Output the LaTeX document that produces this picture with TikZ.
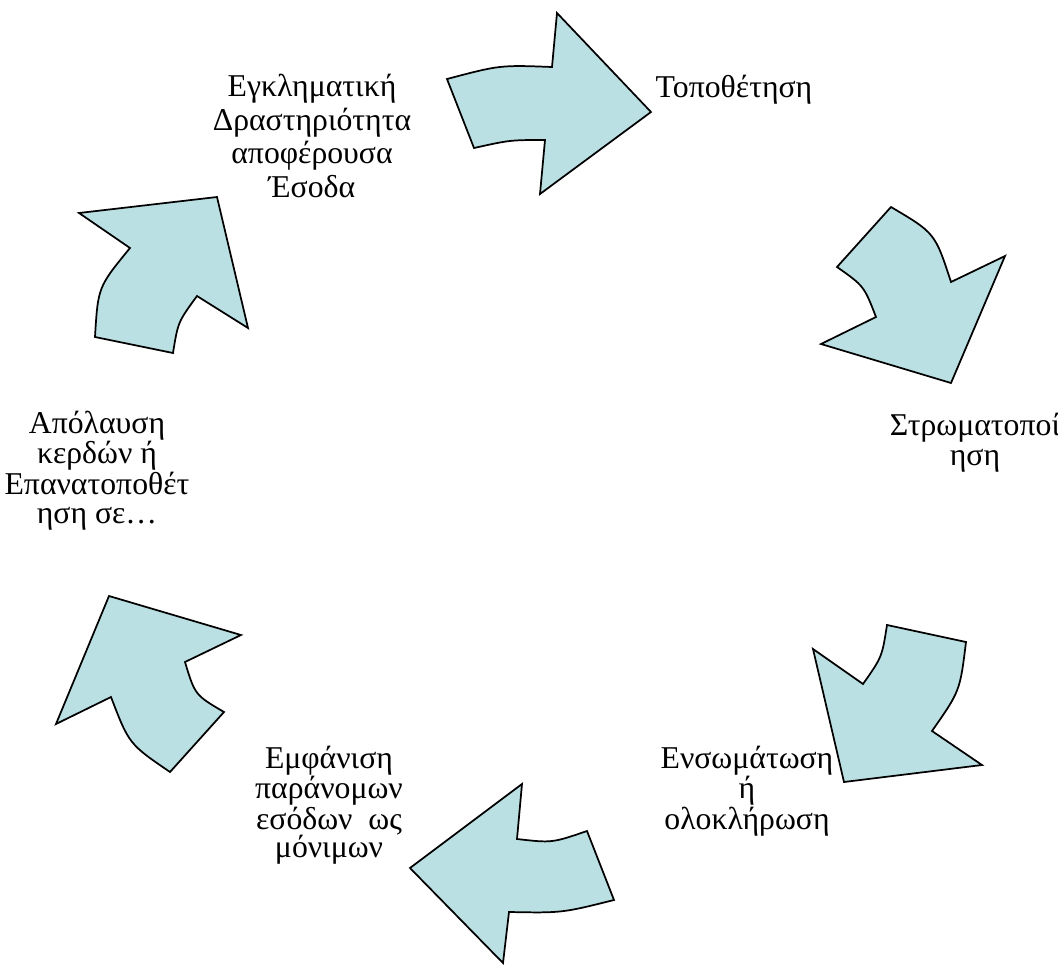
\documentclass[tikz,border=0pt]{standalone}
\usepackage{fontspec}
\setmainfont{Liberation Serif}
\definecolor{arrowfill}{RGB}{187,224,227}
\begin{document}
\begin{tikzpicture}[x=0.75pt, y=-0.75pt,
    cyclearrow/.style={fill=arrowfill, draw=black, line width=1.3pt, line join=miter},
    lbl/.style={inner sep=0pt, align=center, anchor=base, font=\fontsize{23.8}{21}\selectfont}]
  \useasboundingbox (0,0) rectangle (1058,965);
  % the six bent arrows of the cycle
  \draw[cyclearrow] (447,79) .. controls (500,65) .. (552,67) -- (557,13) -- (651,112) -- (540,194) -- (545,140) .. controls (510,140) .. (474,148) -- cycle;
  \draw[cyclearrow] (891,207) .. controls (935,233) .. (951,282) -- (1005,256) -- (951,383) -- (821,344) -- (876,317) .. controls (864,286) .. (837,267) -- cycle;
  \draw[cyclearrow] (887,625) -- (966,642) .. controls (960,691) .. (932,731) -- (982,765) -- (844,782) -- (813,649) -- (863,684) .. controls (882,657) .. (887,625) -- cycle;
  \draw[cyclearrow] (587,831) -- (614,900) .. controls (562,913) .. (509,912) -- (503,963) -- (410,868) -- (522,784) -- (517,839) .. controls (552,843) .. (587,831) -- cycle;
  \draw[cyclearrow] (109,596) -- (241,635) -- (185,662) .. controls (195,695) .. (224,712) -- (170,772) .. controls (129,744) .. (111,697) -- (56,724) -- cycle;
  \draw[cyclearrow] (79,213) -- (217,197) -- (248,328) -- (197,296) .. controls (178,322) .. (173,353) -- (95,337) .. controls (98,287) .. (130,248) -- cycle;
  % stage labels (placed at the baseline of their last line)
  \node[lbl, font=\fontsize{23.8}{25.1}\selectfont] (crime) at (312,197) {Εγκληματική\\Δραστηριότητα\\αποφέρουσα\\Έσοδα};
  \node[lbl] (placement) at (734,97) {Τοποθέτηση};
  \node[lbl, font=\fontsize{23.8}{22.5}\selectfont] (layering) at (975,465) {Στρωματοποί\\ηση};
  \node[lbl] (integration) at (747,829) {Ενσωμάτωση\\ή\\ολοκλήρωση};
  \node[lbl] (appearance) at (329,857) {Εμφάνιση\\παράνομων\\εσόδων\ \ ως\\μόνιμων};
  \node[lbl, font=\fontsize{23.8}{21.75}\selectfont] (enjoyment) at (97,523) {Απόλαυση\\κερδών ή\\Επανατοποθέτ\\ηση σε…};
\end{tikzpicture}
\end{document}
